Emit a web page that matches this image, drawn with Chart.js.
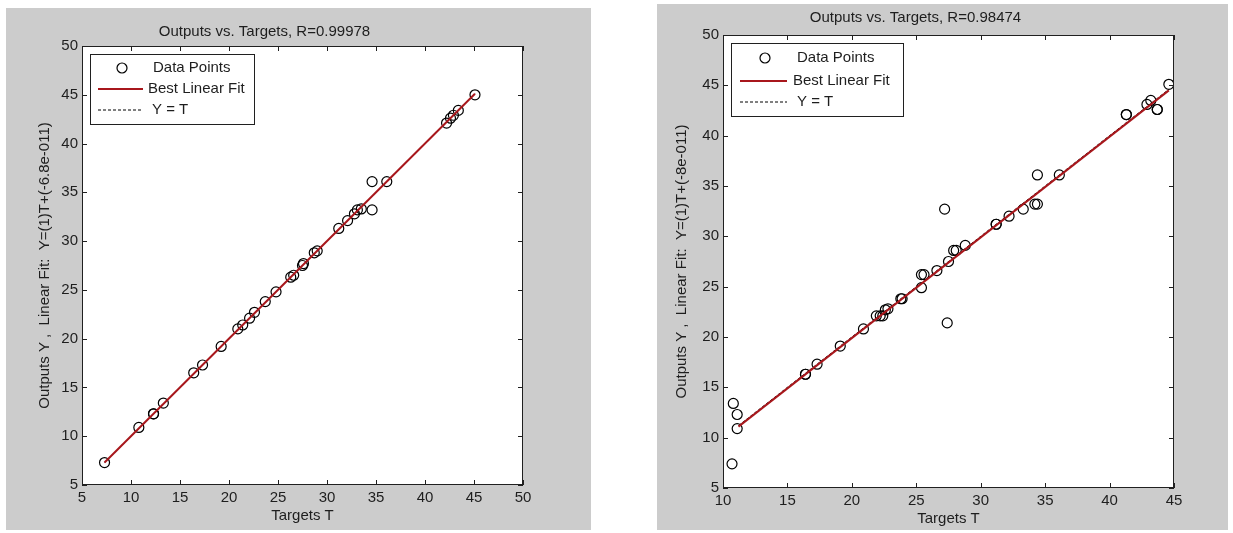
<!DOCTYPE html>
<html lang="en">
<head>
<meta charset="UTF-8">
<title>Outputs vs. Targets</title>
<style>
  body { margin: 0; background: #fff; width: 1233px; height: 533px; position: relative; overflow: hidden; }
  .panel { position: absolute; background: #cccccc; }
  #left { left: 6px; top: 8px; width: 585px; height: 522px; }
  #right { left: 657px; top: 4px; width: 571px; height: 526px; }
</style>
</head>
<body>
<div class="panel" id="left"><canvas id="leftChart" width="585" height="522"></canvas></div>
<div class="panel" id="right"><canvas id="rightChart" width="571" height="526"></canvas></div>
<script src="https://cdn.jsdelivr.net/npm/chart.js@4.4.1/dist/chart.umd.min.js"></script>
<script>
// training set: targets vs network outputs
const leftTargets = [7.3, 10.8, 12.3, 12.3, 13.3, 16.4, 17.3, 19.2, 20.9, 21.4, 22.1, 22.6, 23.7, 24.8, 26.3, 26.6,
  27.5, 27.6, 28.7, 29.0, 31.2, 32.1, 32.8, 33.1, 33.5, 34.6, 34.6, 36.1, 42.2, 42.6, 42.9, 43.4, 45.1];
const leftOutputs = [7.3, 10.9, 12.3, 12.3, 13.4, 16.5, 17.3, 19.2, 21.0, 21.4, 22.1, 22.7, 23.8, 24.8, 26.3, 26.5,
  27.5, 27.7, 28.8, 29.0, 31.3, 32.1, 32.8, 33.2, 33.3, 36.1, 33.2, 36.1, 42.1, 42.6, 42.9, 43.4, 45.0];
const leftFitT = [7.3, 45.1];
const leftFitY = [7.3, 45.1];
const leftTicksX = [5, 50];
const leftTicksY = [5, 50];

// test set
const rightTargets = [10.7, 10.8, 11.1, 11.1, 16.4, 16.4, 17.3, 19.1, 20.9, 21.9, 22.2, 22.4, 22.6, 22.8, 23.8, 23.9,
  25.4, 25.4, 25.6, 26.6, 27.2, 27.4, 27.5, 27.9, 28.1, 28.8, 31.2, 31.2, 32.2, 33.3, 34.2, 34.4, 34.4, 36.1,
  41.3, 41.3, 42.9, 43.2, 43.7, 43.7, 44.6];
const rightOutputs = [7.4, 13.4, 12.3, 10.9, 16.3, 16.3, 17.3, 19.1, 20.8, 22.1, 22.1, 22.1, 22.7, 22.8, 23.8, 23.8,
  24.9, 26.2, 26.2, 26.6, 32.7, 21.4, 27.5, 28.6, 28.6, 29.1, 31.2, 31.2, 32.0, 32.7, 33.2, 33.2, 36.1, 36.1,
  42.1, 42.1, 43.1, 43.5, 42.6, 42.6, 45.1];
const rightFitT = [11.2, 44.6];
const rightFitY = [11.1, 44.5];
const rightTicksX = [10, 45];
const rightTicksY = [5, 50];

const FONT = '"Liberation Sans", Arial, sans-serif';
const FONT_SIZE = 15;
const INK = '#1e1e1e';

function pairs(xs, ys) {
  return xs.map((v, i) => ({ x: v, y: ys[i] }));
}

function makeDatasets(targets, outputs, fitT, fitY) {
  return [
    {
      label: 'Data Points', data: pairs(targets, outputs), showLine: false,
      pointStyle: 'circle', pointRadius: 5, pointBorderWidth: 1.2,
      pointBorderColor: '#000', pointBackgroundColor: 'rgba(0,0,0,0)', order: 2
    },
    {
      label: 'Best Linear Fit', data: pairs(fitT, fitY), showLine: true,
      borderColor: '#a8171c', borderWidth: 2, pointRadius: 0, order: 0
    },
    {
      label: 'Y = T', data: pairs(fitT, fitT), showLine: true,
      borderColor: '#000', borderWidth: 1, borderDash: [3, 2], pointRadius: 0, order: 1
    }
  ];
}

// white axes, box outline, inward ticks on all four sides, legend inside the axes
const boxAndTicks = {
  id: 'boxAndTicks',
  beforeDraw(chart) {
    const { ctx, chartArea: a } = chart;
    ctx.save();
    ctx.fillStyle = '#fff';
    ctx.fillRect(a.left, a.top, a.width, a.height);
    ctx.restore();
  },
  afterDatasetsDraw(chart, args, opts) {
    const { ctx, chartArea: a } = chart;
    const x = chart.scales.x, y = chart.scales.y;
    ctx.save();
    ctx.strokeStyle = '#202020';
    ctx.lineWidth = 1;
    ctx.beginPath();
    x.ticks.forEach((t, i) => {
      const px = Math.round(x.getPixelForTick(i)) + 0.5;
      ctx.moveTo(px, a.bottom); ctx.lineTo(px, a.bottom - 5);
      ctx.moveTo(px, a.top); ctx.lineTo(px, a.top + 5);
    });
    y.ticks.forEach((t, i) => {
      const py = Math.round(y.getPixelForTick(i)) + 0.5;
      ctx.moveTo(a.left, py); ctx.lineTo(a.left + 5, py);
      ctx.moveTo(a.right, py); ctx.lineTo(a.right - 5, py);
    });
    ctx.stroke();
    ctx.strokeRect(Math.round(a.left) + 0.5, Math.round(a.top) + 0.5, Math.round(a.width) - 1, Math.round(a.height) - 1);

    // legend
    const [bx, by, bw, bh] = opts.box;
    const lx = a.left + bx, ly = a.top + by;
    ctx.fillStyle = '#fff';
    ctx.fillRect(lx, ly, bw, bh);
    ctx.strokeStyle = '#202020';
    ctx.strokeRect(Math.round(lx) + 0.5, Math.round(ly) + 0.5, bw, bh);
    ctx.font = FONT_SIZE + 'px ' + FONT;
    ctx.textBaseline = 'middle';
    ctx.textAlign = 'left';
    chart.data.datasets.forEach((ds, i) => {
      const ry = ly + opts.rows[i];
      if (i === 0) {
        ctx.beginPath();
        ctx.lineWidth = 1.2;
        ctx.strokeStyle = '#000';
        ctx.setLineDash([]);
        ctx.arc(lx + opts.mark, ry, 5, 0, Math.PI * 2);
        ctx.stroke();
      } else {
        ctx.beginPath();
        ctx.lineWidth = ds.borderWidth;
        ctx.strokeStyle = ds.borderColor;
        ctx.setLineDash(ds.borderDash || []);
        ctx.moveTo(lx + opts.line[0], ry);
        ctx.lineTo(lx + opts.line[1], ry);
        ctx.stroke();
        ctx.setLineDash([]);
      }
      ctx.fillStyle = INK;
      ctx.fillText(ds.label, lx + opts.text[i], ry);
    });
    ctx.restore();
  }
};

function makeChart(id, cfg) {
  const font = { family: FONT, size: FONT_SIZE, weight: 'normal' };
  return new Chart(document.getElementById(id), {
    type: 'scatter',
    data: { datasets: makeDatasets(cfg.targets, cfg.outputs, cfg.fitT, cfg.fitY) },
    options: {
      responsive: false,
      animation: false,
      events: [],
      layout: { padding: { top: 0, right: cfg.padRight, bottom: 0, left: 0 } },
      plugins: {
        legend: { display: false },
        tooltip: { enabled: false },
        title: { display: true, text: cfg.title, color: INK, font, padding: cfg.titlePad },
        boxAndTicks: cfg.legend
      },
      scales: {
        x: {
          type: 'linear', min: cfg.xTicks[0], max: cfg.xTicks[1],
          grid: { display: false, drawTicks: false },
          border: { display: false },
          ticks: { stepSize: 5, autoSkip: false, maxRotation: 0, padding: 4, color: INK, font },
          title: { display: true, text: 'Targets T', color: INK, font, padding: { top: 0, bottom: cfg.xTitlePad } },
          afterFit(s) { s.height = cfg.xHeight; }
        },
        y: {
          type: 'linear', min: cfg.yTicks[0], max: cfg.yTicks[1],
          grid: { display: false, drawTicks: false },
          border: { display: false },
          ticks: { stepSize: 5, autoSkip: false, padding: 4, color: INK, font },
          title: { display: true, text: cfg.yLabel, color: INK, font, padding: { top: cfg.yTitlePad, bottom: 0 } },
          afterFit(s) { s.width = cfg.yWidth; }
        }
      }
    },
    plugins: [boxAndTicks]
  });
}

makeChart('leftChart', {
  targets: leftTargets, outputs: leftOutputs, fitT: leftFitT, fitY: leftFitY,
  xTicks: leftTicksX, yTicks: leftTicksY,
  title: 'Outputs vs. Targets, R=0.99978',
  yLabel: 'Outputs Y ,  Linear Fit:  Y=(1)T+(-6.8e-011)',
  padRight: 68, titlePad: { top: 15, bottom: 5 },
  xHeight: 45, xTitlePad: 5, yWidth: 76, yTitlePad: 30,
  legend: { box: [8, 8, 164, 70], rows: [14, 35, 56], mark: 32, line: [8, 53], text: [63, 58, 62] }
});

makeChart('rightChart', {
  targets: rightTargets, outputs: rightOutputs, fitT: rightFitT, fitY: rightFitY,
  xTicks: rightTicksX, yTicks: rightTicksY,
  title: 'Outputs vs. Targets, R=0.98474',
  yLabel: 'Outputs Y ,  Linear Fit:  Y=(1)T+(-8e-011)',
  padRight: 54, titlePad: { top: 5, bottom: 8 },
  xHeight: 42, xTitlePad: 2, yWidth: 66, yTitlePad: 16,
  legend: { box: [8, 8, 172, 73], rows: [15, 38, 59], mark: 34, line: [9, 56], text: [66, 62, 66] }
});
</script>
</body>
</html>
